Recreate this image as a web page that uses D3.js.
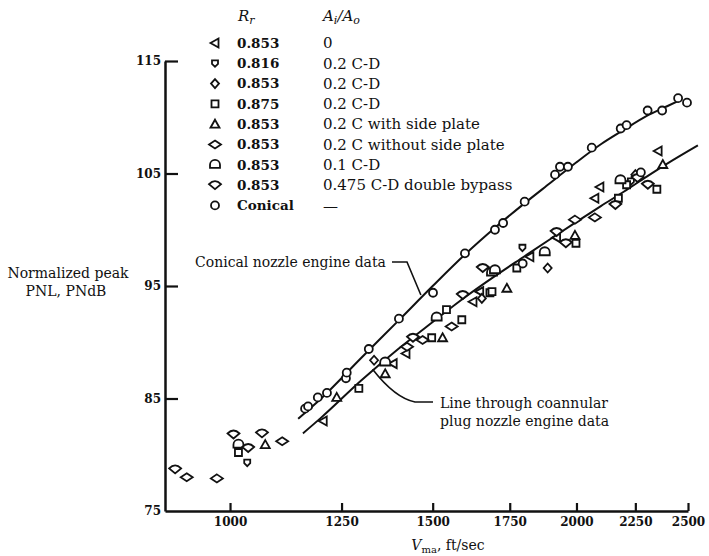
<!DOCTYPE html>
<html><head><meta charset="utf-8">
<script src="https://cdn.jsdelivr.net/npm/d3@7"></script>
<style>
body{margin:0;background:#fff;}
text{font-family:"DejaVu Serif","Liberation Serif",serif;fill:#111;}
</style></head>
<body><svg id="c" width="709" height="556"></svg>
<script>
// ---- data ----
const xTicks = [1000,1250,1500,1750,2000,2250,2500];
const yTicks = [75,85,95,105,115];
const legendR = ["0.853","0.816","0.853","0.875","0.853","0.853","0.853","0.853","Conical"];
const legendA = ["0","0.2 C-D","0.2 C-D","0.2 C-D","0.2 C with side plate","0.2 C without side plate","0.1 C-D","0.475 C-D double bypass","—"];
const conicalLine = [[1146,83.2],[1200,85.0],[1300,88.6],[1400,91.9],[1500,95.0],[1600,97.8],[1700,100.2],[1800,102.3],[1900,104.2],[2000,106.0],[2100,107.6],[2200,108.9],[2300,110.1],[2400,111.0],[2470,111.6]];
const coannularLine = [[1157,81.9],[1200,83.3],[1300,86.6],[1400,89.4],[1500,91.8],[1600,94.0],[1700,95.9],[1800,97.6],[1900,99.2],[2000,100.7],[2100,102.1],[2200,103.4],[2300,104.7],[2400,105.9],[2550,107.5]];
const s1 = [[1205,83.0],[1386,88.1],[1422,89.0],[1626,93.6],[1648,94.5],[1822,97.6],[1922,99.3],[2075,102.8],[2096,103.8],[2355,107.0]];
const s2 = [[1035,79.3],[1795,98.4],[2230,104.3]];
const s3 = [[1334,88.4],[1655,93.9],[1888,96.6],[2250,104.9]];
const s4 = [[1017,80.2],[1294,85.9],[1497,90.4],[1542,92.9],[1590,92.0],[1682,94.4],[1689,94.5],[1775,96.6],[1998,98.8],[2175,102.8],[2211,104.0],[2349,103.6]];
const s5 = [[1073,80.9],[1238,85.1],[1364,87.2],[1530,90.4],[1740,94.8],[1994,99.5],[2377,105.8]];
const s6 = [[917,78.0],[974,77.9],[1110,81.2],[1425,89.6],[1470,90.2],[1558,91.4],[1994,100.9],[2075,101.1]];
const s7 = [[1017,80.9],[1364,88.2],[1512,92.2],[1689,96.2],[1699,96.4],[1877,98.0],[2184,104.4]];
const s8 = [[896,78.7],[1007,81.8],[1037,80.6],[1066,81.9],[1442,90.4],[1593,94.2],[1658,96.6],[1922,99.8],[1958,98.8],[2162,102.2],[2260,104.6],[2307,104.0]];
const s9 = [[1162,84.1],[1169,84.3],[1192,85.1],[1214,85.5],[1261,86.8],[1263,87.3],[1320,89.4],[1402,92.1],[1501,94.4],[1600,97.9],[1699,100.0],[1727,100.6],[1803,102.5],[1916,104.9],[1935,105.6],[1966,105.6],[2062,107.3],[2185,109.0],[2211,109.3],[2306,110.6],[2374,110.6],[2451,111.7],[2495,111.3],[1796,97.0],[2275,105.1]];
const seriesData = [s1,s2,s3,s4,s5,s6,s7,s8,s9];

// ---- symbols ----
const shapes = [
  "M-4.5,0L3.5,-4.5L3.5,4.5Z",
  "M-3,-3H3V0.5L0,3.5L-3,0.5Z",
  "M0,-4.5L4,0L0,4.5L-4,0Z",
  "M-3.5,-3.5H3.5V3.5H-3.5Z",
  "M0,-4.5L4.5,3.5H-4.5Z",
  "M0,-4L6,0L0,4L-6,0Z",
  "M-5,3V0A5,5 0 0 1 5,0V3Z",
  "M-6,-1Q0,-7 6,-1L0,4Z",
  "M4,0A4,4 0 1 1 -4,0A4,4 0 1 1 4,0Z"
];

const svg = d3.select("#c");
const x = d3.scaleLog().domain([878,2500]).range([165,688]);
const y = d3.scaleLinear().domain([75,115]).range([511,61]);

// axes
const gx = svg.append("g").attr("transform","translate(0,511)")
  .call(d3.axisBottom(x).tickValues(xTicks).tickFormat(d3.format("d")).tickSize(-8).tickSizeOuter(0).tickPadding(6));
const gy = svg.append("g").attr("transform","translate(165,0)")
  .call(d3.axisLeft(y).tickValues(yTicks).tickSize(-13).tickSizeOuter(0).tickPadding(4));
[gx,gy].forEach(g=>{
  g.select(".domain").attr("stroke","#111").attr("stroke-width",2.5);
  g.selectAll(".tick line").attr("stroke","#111").attr("stroke-width",2.2);
  g.selectAll(".tick text").style("font-family","'DejaVu Serif',serif").style("font-size","12px").style("font-weight","bold").attr("fill","#111");
});
gy.selectAll(".tick").filter(d=>d===75).select("line").remove();

// curves
const line = d3.line().x(d=>x(d[0])).y(d=>y(d[1])).curve(d3.curveMonotoneX);
svg.append("path").datum(conicalLine).attr("d",line).attr("fill","none").attr("stroke","#111").attr("stroke-width",2);
svg.append("path").datum(coannularLine).attr("d",line).attr("fill","none").attr("stroke","#111").attr("stroke-width",2);

// points
seriesData.forEach((s,i)=>{
  svg.append("g").selectAll("path").data(s).join("path")
    .attr("d",shapes[i])
    .attr("transform",d=>`translate(${x(d[0])},${y(d[1])})`)
    .attr("fill","#fff").attr("stroke","#111").attr("stroke-width",1.8);
});

// legend
const lg = svg.append("g");
const rowY = i => 43 + i*20.3;
const hdr = lg.append("text").attr("x",238).attr("y",21).style("font-size","15px").style("font-style","italic");
hdr.append("tspan").text("R");
hdr.append("tspan").attr("dy",3).style("font-size","11px").text("r");
const hdr2 = lg.append("text").attr("x",323).attr("y",21).style("font-size","15px").style("font-style","italic");
hdr2.append("tspan").text("A");
hdr2.append("tspan").attr("dy",3).style("font-size","11px").text("i");
hdr2.append("tspan").attr("dy",-3).text("/A");
hdr2.append("tspan").attr("dy",3).style("font-size","11px").text("o");
legendR.forEach((r,i)=>{
  lg.append("path").attr("d",shapes[i]).attr("transform",`translate(215,${rowY(i)})`)
    .attr("fill","#fff").attr("stroke","#111").attr("stroke-width",1.8);
  lg.append("text").attr("x",237).attr("y",rowY(i)).attr("dy","0.35em").style("font-size","13.5px").style("font-weight","bold").text(r);
  lg.append("text").attr("x",323).attr("y",rowY(i)).attr("dy","0.35em").style("font-size","15px").text(legendA[i]);
});

// annotations
svg.append("text").attr("x",195).attr("y",262).attr("dy","0.35em").style("font-size","14px").text("Conical nozzle engine data");
svg.append("path").attr("d",`M392,262H407L${x(1465)},${y(94.2)}`).attr("fill","none").attr("stroke","#111").attr("stroke-width",1.6);
svg.append("text").attr("x",440).attr("y",403).attr("dy","0.35em").style("font-size","14px").text("Line through coannular");
svg.append("text").attr("x",440).attr("y",421).attr("dy","0.35em").style("font-size","14px").text("plug nozzle engine data");
svg.append("path").attr("d",`M${x(1330)},${y(87.6)}Q395,398 415,402H433`).attr("fill","none").attr("stroke","#111").attr("stroke-width",1.6);

// axis titles
svg.append("text").attr("x",68).attr("y",273).attr("text-anchor","middle").attr("dy","0.35em").style("font-size","14px").text("Normalized peak");
svg.append("text").attr("x",66).attr("y",291).attr("text-anchor","middle").attr("dy","0.35em").style("font-size","14px").text("PNL, PNdB");
const xt = svg.append("text").attr("x",448).attr("y",545).attr("text-anchor","middle").attr("dy","0.35em").style("font-size","14px");
xt.append("tspan").style("font-style","italic").text("V");
xt.append("tspan").attr("dy",3).style("font-size","10px").text("ma");
xt.append("tspan").attr("dy",-3).text(", ft/sec");
</script></body></html>
